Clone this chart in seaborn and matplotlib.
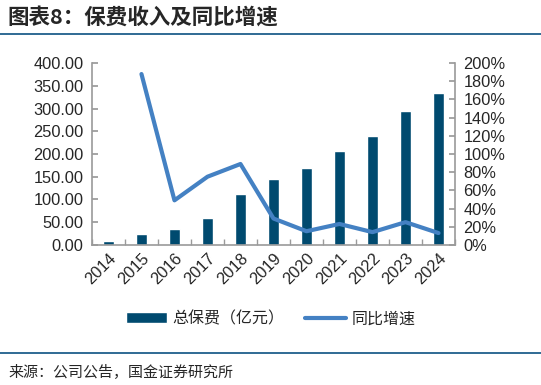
import numpy as np
import pandas as pd
import matplotlib
matplotlib.use('Agg')
import matplotlib.pyplot as plt
import seaborn as sns

# --- Data ---
years = ['2014', '2015', '2016', '2017', '2018', '2019', '2020', '2021', '2022', '2023', '2024']
premium = [8, 25, 34, 60, 113, 146, 169, 206, 239, 295, 335]          # 总保费（亿元）
growth = [np.nan, 188, 49, 75, 89, 29, 15, 23, 14, 25, 13]           # 同比增速 %

left_ticks = [0, 50, 100, 150, 200, 250, 300, 350, 400]
right_ticks = [0, 20, 40, 60, 80, 100, 120, 140, 160, 180, 200]

BAR_COLOR = '#004A6F'
LINE_COLOR = '#4481C3'
AXIS_GRAY = '#9A9A9A'
TICK_FS = 11.8

sns.set_theme(style='white')
plt.rcParams['font.family'] = ['Liberation Sans', 'Noto Sans CJK SC', 'DejaVu Sans']

df = pd.DataFrame({'year': years, 'premium': premium, 'growth': growth})

fig = plt.figure(figsize=(5.41, 3.85), dpi=100)
ax = fig.add_axes([0.170, 0.364, 0.671, 0.472])

sns.barplot(data=df, x='year', y='premium', color=BAR_COLOR, width=0.34,
            saturation=1, ax=ax, label='总保费（亿元）')
ax.set_ylim(0, 400)
ax.set_yticks(left_ticks)
ax.set_yticklabels([f'{v:.2f}' for v in left_ticks], fontsize=TICK_FS)
ax.set_xlim(-0.5, len(years) - 0.5)
ax.set_xlabel('')
ax.set_ylabel('')
ax.tick_params(axis='x', which='major', length=0, pad=4)
ax.set_xticks(np.arange(len(years) + 1) - 0.5, minor=True)
ax.tick_params(axis='x', which='minor', length=4, color=AXIS_GRAY, direction='in', bottom=True)
ax.tick_params(axis='y', length=4, color=AXIS_GRAY, direction='in', left=True, pad=6)
plt.setp(ax.get_xticklabels(), rotation=45, ha='right', rotation_mode='anchor', fontsize=TICK_FS)

ax2 = ax.twinx()
x_pos = np.arange(len(years))
sns.lineplot(x=x_pos, y=df['growth'], color=LINE_COLOR, linewidth=3.0, ax=ax2,
             label='同比增速', legend=False)
ax2.set_ylim(0, 200)
ax2.set_yticks(right_ticks)
ax2.set_yticklabels([f'{v}%' for v in right_ticks], fontsize=TICK_FS)
ax2.set_ylabel('')
ax2.tick_params(axis='y', length=4, color=AXIS_GRAY, direction='in', right=True, pad=6)

for a in (ax, ax2):
    a.spines['top'].set_visible(False)
    for s in ('left', 'right', 'bottom'):
        a.spines[s].set_color(AXIS_GRAY)
        a.spines[s].set_linewidth(1.2)
ax.spines['right'].set_visible(False)
ax2.spines['left'].set_visible(False)
ax2.spines['bottom'].set_visible(False)

# legend
h1, l1 = ax.get_legend_handles_labels()
h2, l2 = ax2.get_legend_handles_labels()
if ax.get_legend():
    ax.get_legend().remove()
fig.legend(h1 + h2, l1 + l2, loc='center', bbox_to_anchor=(0.50, 0.172), ncol=2,
           frameon=False, handlelength=2.6, columnspacing=1.3,
           handletextpad=0.3, prop={'family': ['Noto Sans CJK SC'], 'size': 11.5})

# title and rules
fig.text(0.014, 0.955, '图表8：保费收入及同比增速', fontsize=15.5, fontweight='bold',
         family=['Noto Sans CJK SC'], ha='left', va='center', style='italic')
fig.add_artist(plt.Line2D([0.0, 1.0], [0.912, 0.912], color='#1F5F8B', linewidth=1.3))
fig.add_artist(plt.Line2D([0.0, 1.0], [0.082, 0.082], color='#1F5F8B', linewidth=1.3))
fig.text(0.016, 0.036, '来源：公司公告，国金证券研究所', fontsize=10.8,
         family=['Noto Sans CJK SC'], ha='left', va='center')

fig.savefig('out.png', dpi=100)
